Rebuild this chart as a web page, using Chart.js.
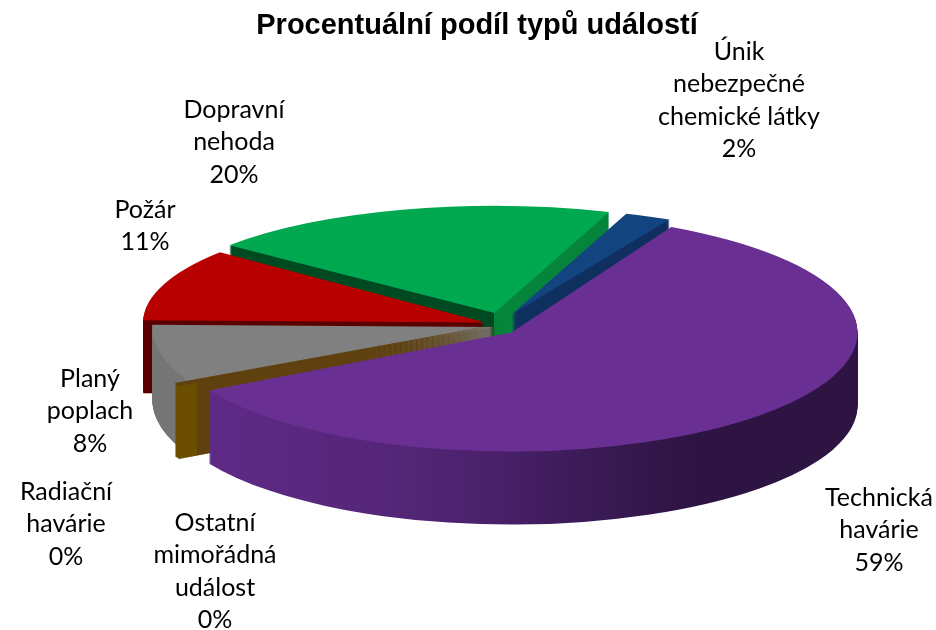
<!DOCTYPE html>
<html>
<head>
<meta charset="utf-8">
<title>Procentuální podíl typů událostí</title>
<script src="https://cdn.jsdelivr.net/npm/chart.js@4"></script>
<style>
  html, body { margin: 0; padding: 0; background: #fff; }
  #wrap { width: 936px; height: 630px; }
</style>
</head>
<body>
<div id="wrap"><canvas id="pieChart" width="936" height="630"></canvas></div>
<script>
const chartTitle = "Procentuální podíl typů událostí";
const categories = [
    "Technická\nhavárie",
    "Ostatní\nmimořádná\nudálost",
    "Radiační\nhavárie",
    "Planý\npoplach",
    "Požár",
    "Dopravní\nnehoda",
    "Únik\nnebezpečné\nchemické látky"
];
const values = [59.4, 0.4, 0, 8, 10.6, 19.6, 2.2];

const topColors = ["#6a2f92", "#5f4110", "#a5a5a5", "#808080", "#b90000", "#00a84f", "#124480"];
// rim / cut-face fill, [position across the pie, colour]
const sideStops = [
    [[0.046, "#5f2a88"], [0.33, "#552678"], [0.475, "#49206a"], [0.62, "#3a1a55"], [0.77, "#2d1442"], [1, "#2d1442"]],
    [[0, "#6b4e00"], [0.087, "#6b4e00"], [0.087, "#5f4110"], [1, "#5f4110"]],
    [[0, "#a5a5a5"], [1, "#a5a5a5"]],
    [[0, "#757575"], [1, "#757575"]],
    [[0, "#5a0000"], [1, "#5a0000"]],
    [[0, "#004a22"], [0.5, "#004a22"], [0.5, "#05843c"], [1, "#05843c"]],
    [[0, "#0f2f5f"], [1, "#0f2f5f"]]
];
const explode = [13, 0, 0, 8, 18, 28, 24];

// fake 3D settings
const pieRadius = 342;
const pieDepth = 73;
const pieShiftX = 25;
const xScale = [1.012, 1.08, 1, 1, 1, 1, 1];
const yScale = [0.348, 0.376, 0.355, 0.355, 0.325, 0.313, 0.313];
const ySag = [8, 2, 0, 5, 3, 0, 0];
const drawOrder = [5, 6, 4, 3, 1, 0];

const labelFont = '25px Lato';
const labelLine = 32.4;
const labelCenters = [[879, 498], [215, 523], [66, 492], [90, 379], [145, 210], [234, 110], [739, 52]];

const total = values.reduce((a, b) => a + b, 0);

const pie3d = {
    id: "pie3d",
    beforeDatasetDraw(chart, args) {
        const ctx = chart.ctx;
        const arcs = args.meta.data;
        drawOrder.forEach(i => {
            const arc = arcs[i];
            const base = arc.options;
            const mid = (arc.startAngle + arc.endAngle) / 2;
            const side = ctx.createLinearGradient(arc.x - pieRadius, 0, arc.x + pieRadius, 0);
            sideStops[i].forEach(s => side.addColorStop(s[0], s[1]));
            for (let d = pieDepth; d >= 0; d--) {
                ctx.save();
                ctx.translate(arc.x + pieShiftX, arc.y + ySag[i] + d);
                ctx.scale(xScale[i], yScale[i]);
                ctx.translate(-arc.x + Math.cos(mid) * explode[i], -arc.y + Math.sin(mid) * explode[i]);
                arc.options = Object.create(base, { backgroundColor: { value: d > 0 ? side : base.backgroundColor } });
                arc.draw(ctx);
                ctx.restore();
            }
            arc.options = base;
        });
        return false;
    },
    afterDraw(chart) {
        const ctx = chart.ctx;
        ctx.save();
        ctx.font = labelFont;
        ctx.fillStyle = "#000";
        ctx.textAlign = "center";
        ctx.textBaseline = "middle";
        categories.forEach((cat, i) => {
            const lines = cat.split("\n");
            lines.push(Math.round(values[i] / total * 100) + "%");
            lines.forEach((line, n) => {
                ctx.fillText(line, labelCenters[i][0], labelCenters[i][1] + n * labelLine);
            });
        });
        ctx.restore();
    }
};

new Chart(document.getElementById("pieChart").getContext("2d"), {
    type: "pie",
    data: {
        labels: categories,
        datasets: [{
            data: values,
            backgroundColor: topColors,
            borderWidth: 0
        }]
    },
    options: {
        responsive: false,
        animation: false,
        rotation: 27.5,
        radius: pieRadius,
        layout: { padding: { left: 18, bottom: 36 } },
        plugins: {
            legend: { display: false },
            tooltip: { enabled: false },
            title: {
                display: true,
                text: chartTitle,
                color: "#000",
                font: { family: "Liberation Sans", size: 29, weight: "bold" },
                padding: { top: 9, bottom: 5 }
            }
        }
    },
    plugins: [pie3d]
});
</script>
</body>
</html>
